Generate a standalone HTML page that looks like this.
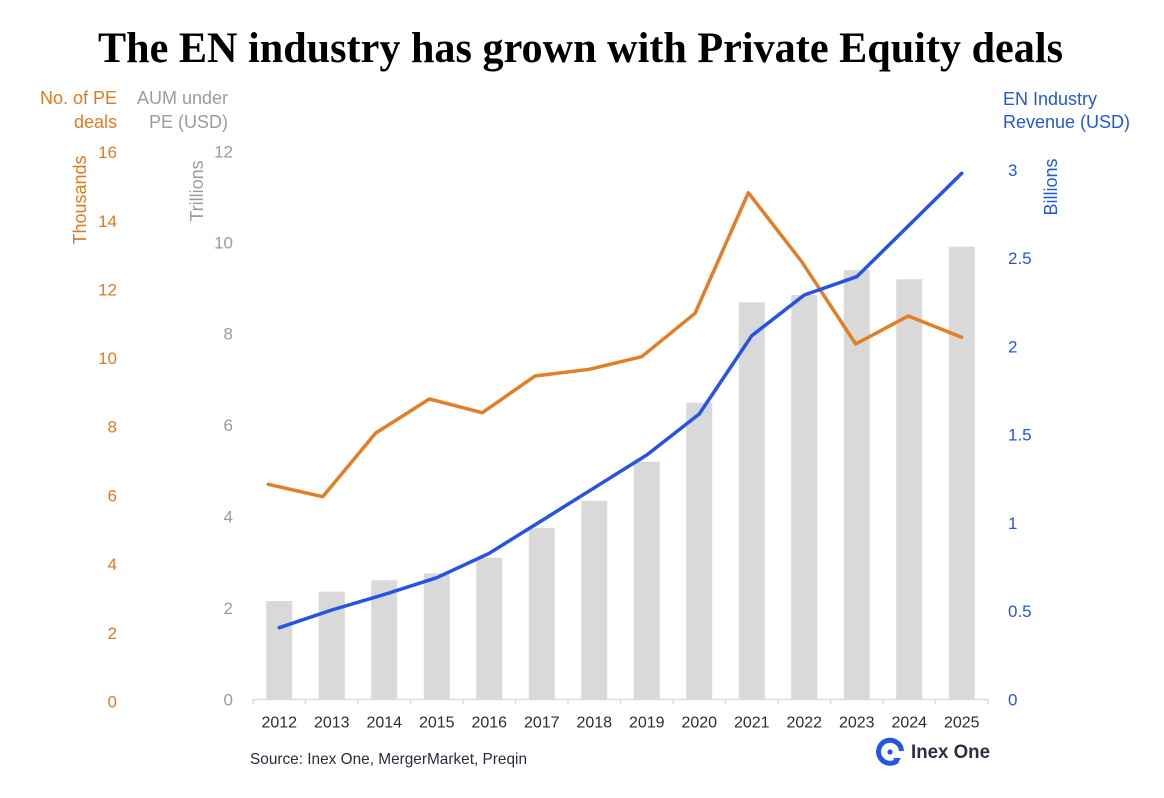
<!DOCTYPE html>
<html>
<head>
<meta charset="utf-8">
<style>
  html,body{margin:0;padding:0;background:#fff;}
  svg{display:block;}
  text{font-family:"Liberation Sans",sans-serif;}
</style>
</head>
<body>
<svg width="1164" height="798" viewBox="0 0 1164 798" xmlns="http://www.w3.org/2000/svg">
  <rect width="1164" height="798" fill="#fff"/>
  <!-- Title -->
  <text x="98" y="62" font-family="Liberation Serif, serif" font-weight="bold" font-size="43" fill="#000" textLength="965" lengthAdjust="spacingAndGlyphs" style="font-family:'Liberation Serif',serif">The EN industry has grown with Private Equity deals</text>

  <!-- Left axis titles -->
  <g font-size="18" fill="#e07a1f" text-anchor="end">
    <text x="117" y="104">No. of PE</text>
    <text x="117" y="128">deals</text>
  </g>
  <g font-size="18" fill="#9b9b9b" text-anchor="end">
    <text x="228" y="104">AUM under</text>
    <text x="228" y="128">PE (USD)</text>
  </g>
  <g font-size="18" fill="#2257e0">
    <text x="1003" y="105">EN Industry</text>
    <text x="1003" y="128">Revenue (USD)</text>
  </g>

  <!-- Rotated unit labels -->
  <text transform="translate(86,200) rotate(-90)" text-anchor="middle" font-size="18" fill="#e07a1f">Thousands</text>
  <text transform="translate(203,191) rotate(-90)" text-anchor="middle" font-size="18" fill="#9b9b9b">Trillions</text>
  <text transform="translate(1057,187) rotate(-90)" text-anchor="middle" font-size="18" fill="#2257e0">Billions</text>

  <!-- Orange tick labels -->
  <g font-size="17" fill="#e07a1f" text-anchor="end">
    <text x="117" y="707.7">0</text>
    <text x="117" y="639">2</text>
    <text x="117" y="570.2">4</text>
    <text x="117" y="501.5">6</text>
    <text x="117" y="432.7">8</text>
    <text x="117" y="364">10</text>
    <text x="117" y="295.5">12</text>
    <text x="117" y="226.8">14</text>
    <text x="117" y="158">16</text>
  </g>
  <!-- Gray tick labels -->
  <g font-size="17" fill="#9b9b9b" text-anchor="end">
    <text x="233" y="705.3">0</text>
    <text x="233" y="614">2</text>
    <text x="233" y="522.5">4</text>
    <text x="233" y="431">6</text>
    <text x="233" y="339.7">8</text>
    <text x="233" y="248.3">10</text>
    <text x="233" y="157.5">12</text>
  </g>
  <!-- Blue tick labels -->
  <g font-size="17" fill="#2257e0">
    <text x="1008" y="705.3">0</text>
    <text x="1008" y="617">0.5</text>
    <text x="1008" y="528.8">1</text>
    <text x="1008" y="440.6">1.5</text>
    <text x="1008" y="352.4">2</text>
    <text x="1008" y="264.2">2.5</text>
    <text x="1008" y="176">3</text>
  </g>

  <!-- Bars -->
  <g fill="#d9d9d9">
    <rect x="266.25" y="601" width="26" height="98"/>
    <rect x="318.75" y="591.7" width="26" height="107.3"/>
    <rect x="371.25" y="580.3" width="26" height="118.7"/>
    <rect x="423.75" y="573.3" width="26" height="125.7"/>
    <rect x="476.25" y="557.7" width="26" height="141.3"/>
    <rect x="528.75" y="528" width="26" height="171"/>
    <rect x="581.25" y="500.7" width="26" height="198.3"/>
    <rect x="633.75" y="461.7" width="26" height="237.3"/>
    <rect x="686.25" y="402.7" width="26" height="296.3"/>
    <rect x="738.75" y="302.3" width="26" height="396.7"/>
    <rect x="791.25" y="295" width="26" height="404"/>
    <rect x="843.75" y="270" width="26" height="429"/>
    <rect x="896.25" y="279.3" width="26" height="419.7"/>
    <rect x="948.75" y="246.7" width="26" height="452.3"/>
  </g>

  <!-- X axis -->
  <g stroke="#dcdce6" stroke-width="1.5" fill="none">
    <line x1="253" y1="699.5" x2="988" y2="699.5"/>
    <path d="M253 699v5 M305.5 699v5 M358 699v5 M410.5 699v5 M463 699v5 M515.5 699v5 M568 699v5 M620.5 699v5 M673 699v5 M725.5 699v5 M778 699v5 M830.5 699v5 M883 699v5 M935.5 699v5 M988 699v5"/>
  </g>

  <!-- Year labels -->
  <g font-size="16" fill="#2b2b3d" text-anchor="middle">
    <text x="279.25" y="727.5">2012</text>
    <text x="331.75" y="727.5">2013</text>
    <text x="384.25" y="727.5">2014</text>
    <text x="436.75" y="727.5">2015</text>
    <text x="489.25" y="727.5">2016</text>
    <text x="541.75" y="727.5">2017</text>
    <text x="594.25" y="727.5">2018</text>
    <text x="646.75" y="727.5">2019</text>
    <text x="699.25" y="727.5">2020</text>
    <text x="751.75" y="727.5">2021</text>
    <text x="804.25" y="727.5">2022</text>
    <text x="856.75" y="727.5">2023</text>
    <text x="909.25" y="727.5">2024</text>
    <text x="961.75" y="727.5">2025</text>
  </g>

  <!-- Orange line -->
  <polyline fill="none" stroke="#e27f26" stroke-width="3.5" stroke-linejoin="round" stroke-linecap="round"
    points="268.3,484.3 322.7,496.7 375.7,433 429.3,399 482.3,412.7 535,376 589.3,369.3 641.7,356.7 695,313.3 748.3,192.7 801.7,261.7 855.7,344 908.3,316 961.7,337.3"/>

  <!-- Blue line -->
  <polyline fill="none" stroke="#2553e3" stroke-width="3.5" stroke-linejoin="round" stroke-linecap="round"
    points="279.25,627.7 331.75,610 384.25,594.5 436.75,577.7 489.25,553.3 541.75,520.6 594.25,487.8 646.75,455 699.25,414 751.75,335.7 804.25,295 856.75,276.7 909.25,225 961.75,173.3"/>

  <!-- Source -->
  <text x="250" y="764" font-size="16" fill="#2b2b3d" textLength="277" lengthAdjust="spacingAndGlyphs">Source: Inex One, MergerMarket, Preqin</text>

  <!-- Logo -->
  <g>
    <path d="M897.5 760.5 A11.5 11.5 0 1 1 901.5 751" fill="none" stroke="#2257e6" stroke-width="5" stroke-linecap="butt"/>
    <path d="M893 758 L901 758 L897 764 Z" fill="#2257e6"/>
    <circle cx="890" cy="752" r="2.6" fill="#2257e6"/>
    <text x="911" y="758" font-size="19" font-weight="bold" fill="#2e2e40" textLength="79" lengthAdjust="spacingAndGlyphs">Inex One</text>
  </g>
</svg>
</body>
</html>
